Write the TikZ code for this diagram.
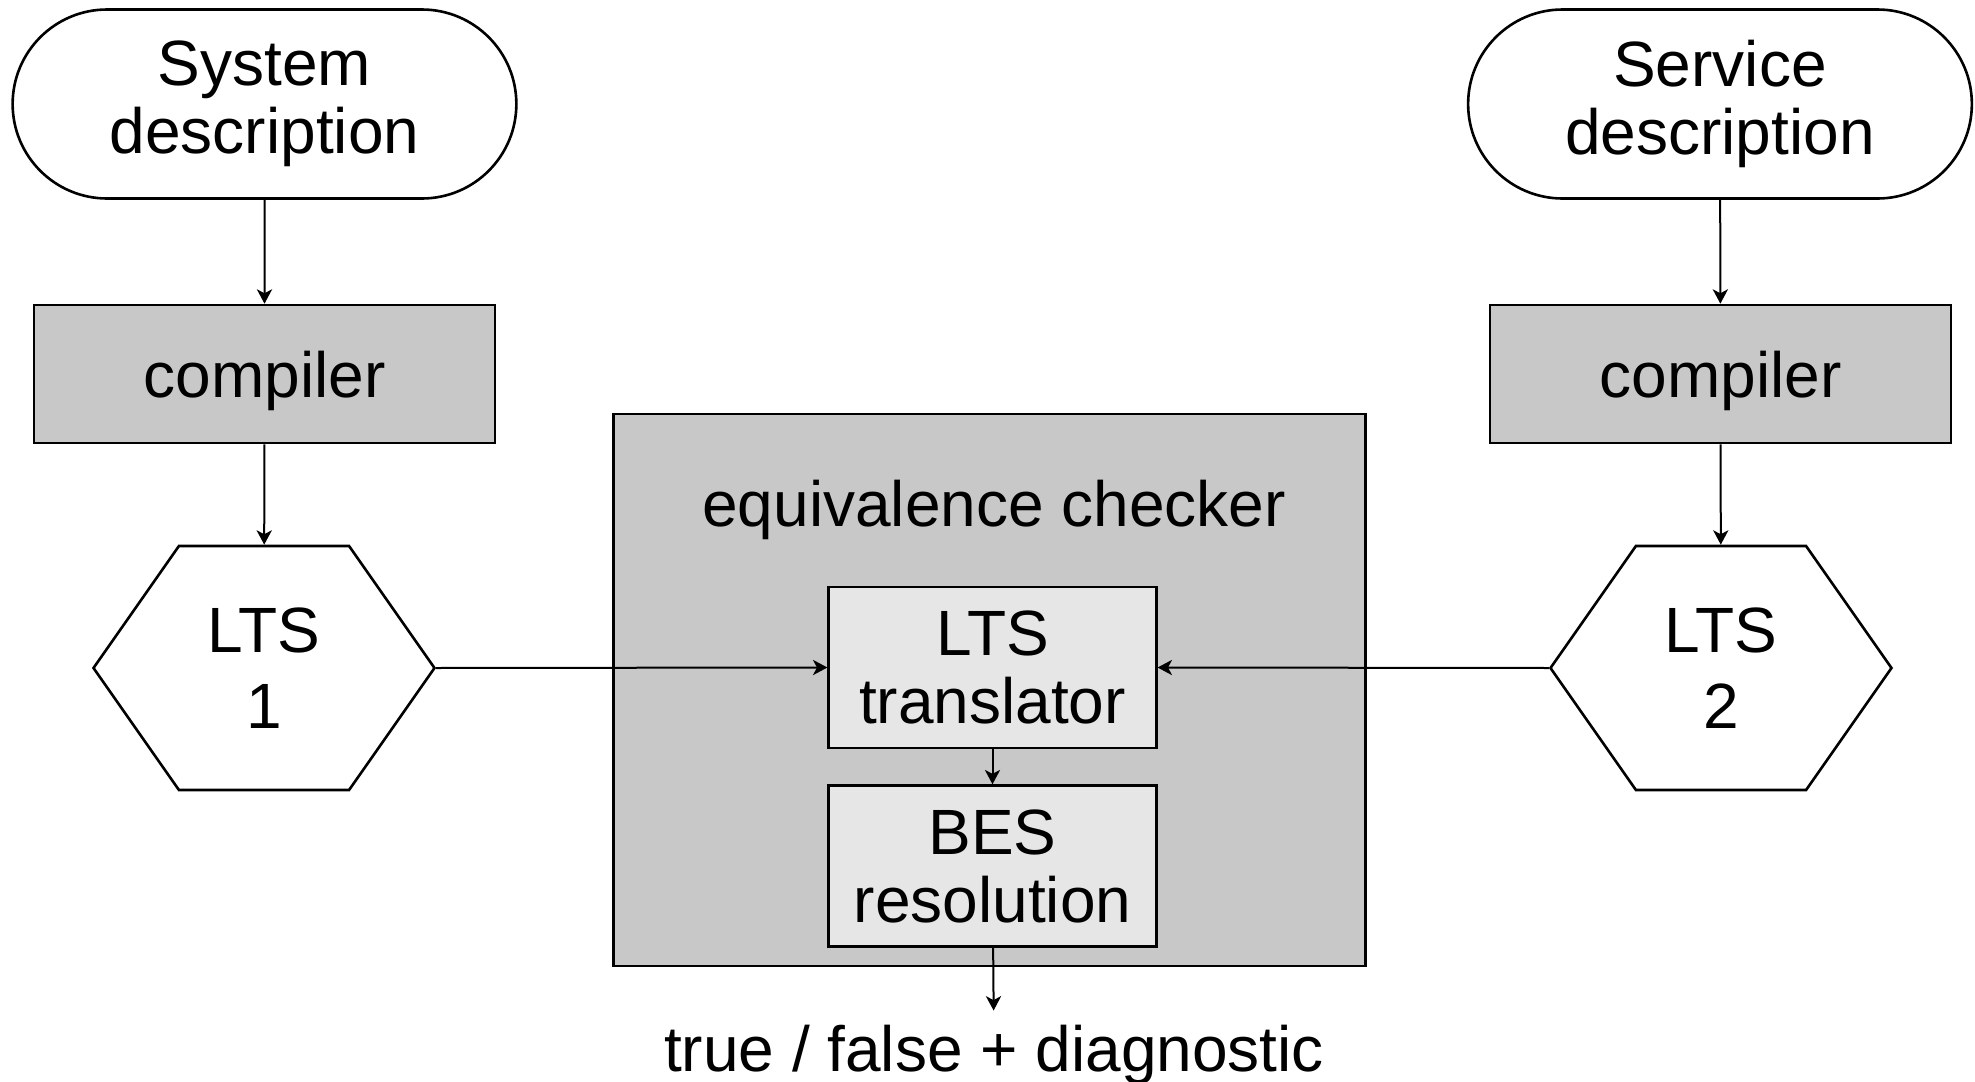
\documentclass[tikz,border=0pt]{standalone}
\usepackage{fontspec}
\setmainfont{Liberation Sans}
\usetikzlibrary{shapes.misc,shapes.symbols,arrows.meta}
\definecolor{boxgray}{RGB}{200,200,200}
\definecolor{innergray}{RGB}{230,230,230}
\begin{document}
\begin{tikzpicture}[x=0.25pt,y=-0.25pt,
  every node/.style={font=\fontsize{16}{17}\selectfont,line width=0.65pt},
  desc/.style={draw,rounded rectangle,minimum width=132.6pt,minimum height=47.25pt,align=center,fill=white},
  tool/.style={draw,fill=boxgray,minimum width=115.25pt,minimum height=34.5pt,text depth=0pt,align=center},
  lts/.style={draw,fill=white,signal,signal to=west and east,signal pointer angle=110,minimum width=85.25pt,minimum height=61pt,align=center,font=\fontsize{16}{19}\selectfont},
  inner/.style={draw,fill=innergray,minimum width=81.9pt,minimum height=40.2pt,align=center},
  flow/.style={-{Stealth[length=3.6pt,width=3.8pt,inset=1pt]},line width=0.5pt}]
\useasboundingbox (0,0) rectangle (1975,1082);
\node[desc] (sys) at (264.5,104) {System\\description};
\node[desc] (serv) at (1720,104) {Service\\description};
\node[tool] (comp1) at (264.5,374) {compiler};
\node[tool] (comp2) at (1720.5,374) {compiler};
\node[lts] (lts1) at (264,668) {LTS\\1};
\node[lts] (lts2) at (1721,668) {LTS\\2};
\node[draw,fill=boxgray,minimum width=188pt,minimum height=138pt] (checker) at (989.4,690) {};
\node (chklabel) at (994,510) {equivalence checker};
\node[inner] (trans) at (992.5,667.5) {LTS\\translator};
\node[inner] (bes) at (992.5,866) {BES\\resolution};
\node (result) at (994,1055) {true / false + diagnostic};
\draw[flow] (sys) -- (comp1);
\draw[flow] (serv) -- (comp2);
\draw[flow] (comp1) -- (lts1);
\draw[flow] (comp2) -- (lts2);
\draw[flow] (lts1.east) -- (trans.west);
\draw[flow] (lts2.west) -- (trans.east);
\draw[flow] (trans) -- (bes);
\draw[flow] (bes) -- (result);
\end{tikzpicture}
\end{document}
